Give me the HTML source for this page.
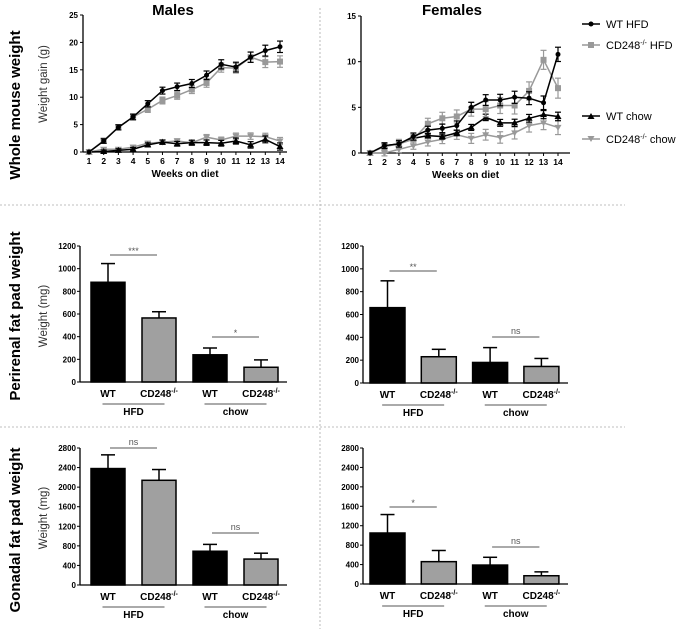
<!DOCTYPE html>
<html><head><meta charset="utf-8"><style>
body{margin:0;background:#fff}
svg{display:block;font-family:"Liberation Sans",sans-serif}
</style></head><body>
<svg id="fig" width="678" height="629" viewBox="0 0 678 629" xmlns="http://www.w3.org/2000/svg">
<line x1="0" y1="205" x2="625" y2="205" stroke="#aaa" stroke-width="0.8" stroke-dasharray="2,2"/>
<line x1="0" y1="427" x2="625" y2="427" stroke="#aaa" stroke-width="0.8" stroke-dasharray="2,2"/>
<line x1="320" y1="8" x2="320" y2="629" stroke="#aaa" stroke-width="0.8" stroke-dasharray="2,2"/>
<text x="173" y="15" font-size="15" font-weight="bold" text-anchor="middle">Males</text>
<text x="452" y="15" font-size="15" font-weight="bold" text-anchor="middle">Females</text>
<text transform="translate(20,105) rotate(-90)" font-size="15" font-weight="bold" text-anchor="middle">Whole mouse weight</text>
<text transform="translate(20,316) rotate(-90)" font-size="15" font-weight="bold" text-anchor="middle">Perirenal fat pad weight</text>
<text transform="translate(20,530) rotate(-90)" font-size="15" font-weight="bold" text-anchor="middle">Gonadal fat pad weight</text>
<text transform="translate(47,84) rotate(-90)" font-size="11.5" fill="#333" text-anchor="middle">Weight gain (g)</text>
<text transform="translate(47,316) rotate(-90)" font-size="11.5" fill="#333" text-anchor="middle">Weight (mg)</text>
<text transform="translate(47,518) rotate(-90)" font-size="11.5" fill="#333" text-anchor="middle">Weight (mg)</text>
<g>
<line x1="582" y1="24" x2="600" y2="24" stroke="#000" stroke-width="1.5"/><circle cx="591" cy="24" r="2.5" fill="#000"/>
<text x="606" y="28" font-size="11">WT HFD</text>
<line x1="582" y1="45" x2="600" y2="45" stroke="#999" stroke-width="1.5"/><rect x="588" y="42" width="6" height="6" fill="#999"/>
<text x="606" y="49" font-size="11">CD248<tspan font-size="7" dy="-4">-/-</tspan><tspan dy="4"> HFD</tspan></text>
<line x1="582" y1="116" x2="600" y2="116" stroke="#000" stroke-width="1.5"/><path d="M587.5,119 L591,113 L594.5,119Z" fill="#000"/>
<text x="606" y="120" font-size="11">WT chow</text>
<line x1="582" y1="139" x2="600" y2="139" stroke="#999" stroke-width="1.5"/><path d="M587.5,136 L591,142 L594.5,136Z" fill="#999"/>
<text x="606" y="143" font-size="11">CD248<tspan font-size="7" dy="-4">-/-</tspan><tspan dy="4"> chow</tspan></text>
</g>
</svg>
<script>
const weeks=[1,2,3,4,5,6,7,8,9,10,11,12,13,14];
const maleWtHfd=[0,2,4.5,6.4,8.8,11.2,11.9,12.5,14,16,15.5,17.3,18.5,19.2];
const maleKoHfd=[0,2.1,4.5,6.4,7.8,9.4,10.3,11.4,12.6,15.4,15.3,17.3,16.4,16.5];
const maleWtChow=[0,0.1,0.3,0.5,1.3,1.8,1.5,1.7,1.7,1.6,2,1.3,2.3,1.0];
const maleKoChow=[0,0.5,0.5,0.9,1.6,1.8,2,1.7,2.7,2.2,2.9,2.9,2.8,2.0];
const femWtHfd=[0,0.8,1,1.8,2.5,2.7,3,5,5.8,5.8,6.1,6,5.5,10.8];
const femKoHfd=[0,0.7,1,1.5,3.2,3.8,4,4.8,4.8,5.2,5.2,6.8,10.2,7.1];
const femWtChow=[0,0.8,1,1.6,1.9,1.8,2.2,2.8,3.9,3.3,3.3,3.8,4.2,4];
const femKoChow=[0,0,0.4,0.8,1.2,1.5,2,1.6,2,1.7,2.2,3,3.3,2.8];
const maleTicks=[0,5,10,15,20,25];
const femTicks=[0,5,10,15];
const barCats=["WT","CD248","WT","CD248"];
const mPeri=[880,565,240,130], mPeriErr=[165,55,60,65];
const fPeri=[660,230,180,145], fPeriErr=[235,65,130,70];
const mGon=[2380,2140,690,530], mGonErr=[280,220,140,120];
const fGon=[1050,460,390,170], fGonErr=[380,230,160,80];
const periTicks=[0,200,400,600,800,1000,1200];
const gonTicks=[0,400,800,1200,1600,2000,2400,2800];
const mPeriSig=["***","*"], fPeriSig=["**","ns"], mGonSig=["ns","ns"], fGonSig=["*","ns"];

const NS="http://www.w3.org/2000/svg";
const svg=document.getElementById('fig');
function mk(tag,attrs,parent){const e=document.createElementNS(NS,tag);for(const k in attrs)e.setAttribute(k,attrs[k]);(parent||svg).appendChild(e);return e;}

function lineChart(ax,name,ticks,series){
  const g=mk('g',{});
  
  
  const ymax=ticks[ticks.length-1];
  const Y=v=>ax.y0-(v/ymax)*(ax.y0-ax.y1);
  const X=w=>ax.x1+(w-1)*(ax.x14-ax.x1)/13;
  mk('line',{x1:ax.x,y1:ax.y1,x2:ax.x,y2:ax.y0,stroke:'#000','stroke-width':1.3},g);
  mk('line',{x1:ax.x,y1:ax.y0,x2:ax.xe,y2:ax.y0,stroke:'#000','stroke-width':1.3},g);
  ticks.forEach(t=>{mk('line',{x1:ax.x-3,y1:Y(t),x2:ax.x,y2:Y(t),stroke:'#000'},g);
    const tx=mk('text',{x:ax.x-5,y:Y(t)+3,'font-size':8,'font-weight':'bold','text-anchor':'end'},g);tx.textContent=t;});
  weeks.forEach(w=>{mk('line',{x1:X(w),y1:ax.y0,x2:X(w),y2:ax.y0+3,stroke:'#000'},g);
    const tx=mk('text',{x:X(w),y:ax.y0+12,'font-size':8.5,'font-weight':'bold','text-anchor':'middle'},g);tx.textContent=w;});
  const xt=mk('text',{x:(ax.x+ax.xe)/2,y:ax.y0+25,'font-size':10,'font-weight':'bold','text-anchor':'middle'},g);xt.textContent='Weeks on diet';
  series.forEach(s=>{
    const pts=s.v.map((v,i)=>X(weeks[i])+','+Y(v)).join(' ');
    const pl=mk('polyline',{points:pts,fill:'none',stroke:s.c,'stroke-width':1.5},g);
    
    
    s.v.forEach((v,i)=>{const x=X(weeks[i]),y=Y(v),e=s.e*(i?1:0)*(0.5+i/14);
      if(e>0){mk('line',{x1:x,y1:y-e,x2:x,y2:y+e,stroke:s.c,'stroke-width':1.2},g);
        mk('line',{x1:x-3,y1:y-e,x2:x+3,y2:y-e,stroke:s.c,'stroke-width':1.2},g);
        mk('line',{x1:x-3,y1:y+e,x2:x+3,y2:y+e,stroke:s.c,'stroke-width':1.2},g);}
      let m;
      if(s.m==='c')m=mk('circle',{cx:x,cy:y,r:2.5,fill:s.c},g);
      else if(s.m==='s')m=mk('rect',{x:x-3,y:y-3,width:6,height:6,fill:s.c},g);
      else if(s.m==='t')m=mk('path',{d:`M${x-3.5},${y+2.5}L${x},${y-3.5}L${x+3.5},${y+2.5}Z`,fill:s.c},g);
      else m=mk('path',{d:`M${x-3.5},${y-2.5}L${x},${y+3.5}L${x+3.5},${y-2.5}Z`,fill:s.c},g);
      
      
    });
  });
}
lineChart({x:83,xe:287,y0:152,y1:15,x1:89,x14:280},'males-weight-gain-chart',maleTicks,[
 {v:maleKoChow,c:'#999',m:'v',e:2.5,n:'male-cd248-chow-line'},
 {v:maleWtChow,c:'#000',m:'t',e:2.5,n:'male-wt-chow-line'},
 {v:maleKoHfd,c:'#999',m:'s',e:4,n:'male-cd248-hfd-line'},
 {v:maleWtHfd,c:'#000',m:'c',e:4,n:'male-wt-hfd-line'}]);
lineChart({x:361,xe:570,y0:153,y1:16,x1:370,x14:558},'females-weight-gain-chart',femTicks,[
 {v:femKoChow,c:'#999',m:'v',e:5,n:'female-cd248-chow-line'},
 {v:femWtChow,c:'#000',m:'t',e:3,n:'female-wt-chow-line'},
 {v:femKoHfd,c:'#999',m:'s',e:7,n:'female-cd248-hfd-line'},
 {v:femWtHfd,c:'#000',m:'c',e:5,n:'female-wt-hfd-line'}]);

function barChart(ax,name,ticks,vals,errs,sig,sigY){
  const g=mk('g',{});
  
  
  const ymax=ticks[ticks.length-1];
  const Y=v=>ax.y0-(v/ymax)*(ax.y0-ax.y1);
  const bx=[0,1,2,3].map(i=>ax.b0+i*ax.step);
  vals.forEach((v,i)=>{
    const x=bx[i],y=Y(v),yt=Y(v+errs[i]),cx=x+ax.bw/2;
    mk('line',{x1:cx,y1:y,x2:cx,y2:yt,stroke:'#000','stroke-width':1.5},g);
    mk('line',{x1:cx-7,y1:yt,x2:cx+7,y2:yt,stroke:'#000','stroke-width':1.5},g);
    const r=mk('rect',{x:x,y:y,width:ax.bw,height:ax.y0-y,fill:i%2?'#a0a0a0':'#000',stroke:'#000','stroke-width':1.5},g);
    
    
    const t=mk('text',{x:cx,y:ax.y0+15,'font-size':10,'font-weight':'bold','text-anchor':'middle'},g);
    t.textContent=barCats[i];
    if(barCats[i]!=='WT'){const s=mk('tspan',{'font-size':7,dy:-4},t);s.textContent='-/-';}
  });
  mk('line',{x1:ax.x,y1:ax.y1,x2:ax.x,y2:ax.y0,stroke:'#000','stroke-width':1.3},g);
  mk('line',{x1:ax.x,y1:ax.y0,x2:ax.xe,y2:ax.y0,stroke:'#000','stroke-width':1.3},g);
  ticks.forEach(t=>{mk('line',{x1:ax.x-3,y1:Y(t),x2:ax.x,y2:Y(t),stroke:'#000'},g);
    const tx=mk('text',{x:ax.x-4,y:Y(t)+3,'font-size':8,'font-weight':'bold','text-anchor':'end'},g);tx.textContent=t;});
  ['HFD','chow'].forEach((lbl,k)=>{
    const c=(bx[2*k]+bx[2*k+1]+ax.bw)/2;
    mk('line',{x1:c-31,y1:ax.y0+22,x2:c+31,y2:ax.y0+22,stroke:'#555'},g);
    const t=mk('text',{x:c,y:ax.y0+33,'font-size':10,'font-weight':'bold','text-anchor':'middle'},g);t.textContent=lbl;
    const s1=bx[2*k]+ax.bw/2+2,s2=bx[2*k+1]+ax.bw/2-2;
    mk('line',{x1:s1,y1:sigY[k],x2:s2,y2:sigY[k],stroke:'#555'},g);
    const st=mk('text',{x:(s1+s2)/2,y:sigY[k]-(sig[k]==='ns'?3:1),'font-size':9,fill:'#555','text-anchor':'middle'},g);st.textContent=sig[k];
  });
}
barChart({x:80,xe:287,y0:382,y1:246,b0:91,step:51,bw:34},'male-perirenal-chart',periTicks,mPeri,mPeriErr,mPeriSig,[255,337]);
barChart({x:363,xe:568,y0:383,y1:246,b0:370,step:51.3,bw:35},'female-perirenal-chart',periTicks,fPeri,fPeriErr,fPeriSig,[271,337]);
barChart({x:80,xe:287,y0:585,y1:448,b0:91,step:51,bw:34},'male-gonadal-chart',gonTicks,mGon,mGonErr,mGonSig,[448,533]);
barChart({x:363,xe:568,y0:584,y1:448,b0:370,step:51.3,bw:35},'female-gonadal-chart',gonTicks,fGon,fGonErr,fGonSig,[507,547]);
</script>
</body></html>
